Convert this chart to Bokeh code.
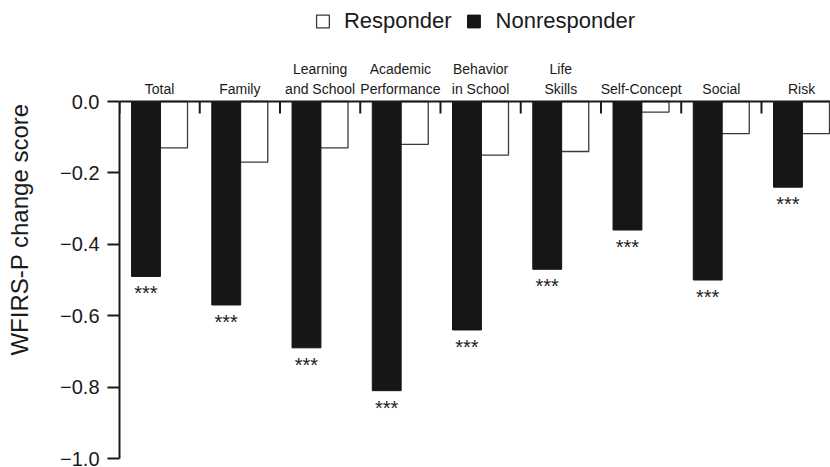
from bokeh.plotting import figure
from bokeh.models import (LinearAxis, SingleIntervalTicker, CustomJSTickFormatter, Range1d,
                          Legend, LegendItem, ColumnDataSource, Span)
from bokeh.core.properties import value
from bokeh.embed import file_html
from bokeh.resources import INLINE

# ---- data ----
categories = ["Total", "Family", "Learning and School", "Academic Performance",
              "Behavior in School", "Life Skills", "Self-Concept", "Social", "Risk"]
label_line1 = ["", "", "Learning", "Academic", "Behavior", "Life", "", "", ""]
label_line2 = ["Total", "Family", "and School", "Performance", "in School", "Skills",
               "Self-Concept", "Social", "Risk"]
nonresponder = [-0.49, -0.57, -0.69, -0.81, -0.64, -0.47, -0.36, -0.50, -0.24]
responder = [-0.13, -0.17, -0.13, -0.12, -0.15, -0.14, -0.03, -0.09, -0.09]
significance = ["***", "***", "***", "***", "***", "***", "***", "***", "***"]
y_min, y_max, y_step = -1.0, 0.0, 0.2

FONT = "Liberation Sans"
INK = "#1a1a1a"
PX = 1.0 / 357.0          # one screen pixel in data units (vertical)

idx = list(range(len(categories)))
x_non = [i + 0.33 for i in idx]
x_res = [i + 0.675 for i in idx]
centers = [i + 0.5 for i in idx]
bounds = [float(i) for i in range(len(categories) + 1)]

p = figure(width=830, height=467, x_range=Range1d(0, 8.86),
           y_range=Range1d(y_min, y_max + 101 * PX),
           output_backend="svg", toolbar_location=None,
           x_axis_location=None, y_axis_location=None,
           min_border_left=119, min_border_right=0, min_border_bottom=9, min_border_top=0)
p.outline_line_color = None
p.xgrid.visible = False
p.ygrid.visible = False

src = ColumnDataSource(dict(x_non=x_non, x_res=x_res, non=nonresponder, res=responder,
                            star_y=[v - 6 * PX for v in nonresponder], stars=significance))

r_res = p.vbar(x="x_res", top=0, bottom="res", width=0.345, source=src,
               fill_color="white", line_color="#3a3a3a", line_width=1.3)
r_non = p.vbar(x="x_non", top=0, bottom="non", width=0.36, source=src,
               fill_color="#161616", line_color="#161616", line_width=1)
p.text(x="x_non", y="star_y", text="stars", source=src, text_align="center",
       text_baseline="top", text_font=value(FONT), text_font_size="20px",
       text_color="#222222")

# top line at zero with category boundary ticks
p.add_layout(Span(location=0, dimension="width", line_color=INK, line_width=2))
tick_src = ColumnDataSource(dict(x=bounds, y0=[0.0] * len(bounds),
                                 y1=[-12 * PX] * len(bounds)))
p.segment(x0="x", y0="y0", x1="x", y1="y1", source=tick_src, line_color=INK, line_width=2)

# category labels above the zero line
lab_src = ColumnDataSource(dict(x=centers, l1=label_line1, l2=label_line2,
                                y1=[33 * PX] * len(centers), y2=[13 * PX] * len(centers)))
p.text(x="x", y="y2", text="l2", source=lab_src, text_align="center",
       text_baseline="alphabetic", text_font=value(FONT), text_font_size="14px",
       text_color=INK)
p.text(x="x", y="y1", text="l1", source=lab_src, text_align="center",
       text_baseline="alphabetic", text_font=value(FONT), text_font_size="14px",
       text_color=INK)

# left axis
yaxis = LinearAxis(ticker=SingleIntervalTicker(interval=y_step, num_minor_ticks=0),
                   formatter=CustomJSTickFormatter(
                       code="return tick.toFixed(1).replace('-', '\u2212');"),
                   axis_label="WFIRS-P change score")
yaxis.bounds = (y_min, y_max)
yaxis.axis_label_text_font = FONT
yaxis.axis_label_text_font_size = "24px"
yaxis.axis_label_text_font_style = "normal"
yaxis.axis_label_text_color = INK
yaxis.axis_label_standoff = 24
yaxis.major_label_text_font = FONT
yaxis.major_label_text_font_size = "20px"
yaxis.major_label_text_color = INK
yaxis.major_label_standoff = 8
yaxis.major_tick_out = 12
yaxis.major_tick_in = 0
yaxis.major_tick_line_width = 2
yaxis.major_tick_line_color = INK
yaxis.minor_tick_line_color = None
yaxis.axis_line_width = 2
yaxis.axis_line_color = INK
p.add_layout(yaxis, "left")

legend = Legend(items=[LegendItem(label="Responder", renderers=[r_res]),
                       LegendItem(label="Nonresponder", renderers=[r_non])],
                orientation="horizontal", location="top_center",
                label_text_font=FONT, label_text_font_size="22px",
                label_text_color=INK,
                glyph_width=16, glyph_height=16, label_standoff=14, spacing=14,
                padding=0, margin=8, border_line_color=None,
                background_fill_alpha=0)
p.add_layout(legend, "center")

open("out.html", "w").write(file_html(p, INLINE))
